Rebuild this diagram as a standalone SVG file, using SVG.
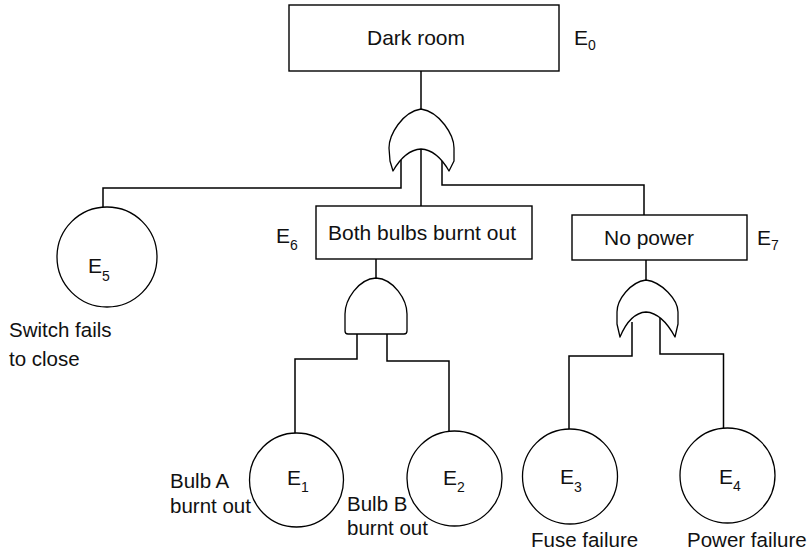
<svg xmlns="http://www.w3.org/2000/svg" width="812" height="555" viewBox="0 0 812 555">
<style>
.box{fill:#fff;stroke:#000;stroke-width:1.4}
.gate{fill:#fff;stroke:#000;stroke-width:1.3;stroke-linejoin:round}
.ev{fill:#fff;stroke:#000;stroke-width:1.3}
.ln{fill:none;stroke:#000;stroke-width:1.5}
text{font-family:"Liberation Sans",Arial,sans-serif;fill:#111}
.t{font-size:21px}
.l{font-size:20.5px}
.s{font-size:14px}
</style>
<rect width="812" height="555" fill="#fff"/>
<g id="connectors">
<path class="ln" d="M421,71 V109"/>
<path class="ln" d="M421,149 V206"/>
<path class="ln" d="M401,160 V188 H103 V207"/>
<path class="ln" d="M442,161 V185 H644 V215"/>
<path class="ln" d="M376,259 V278"/>
<path class="ln" d="M357,334 V359 H295 V433"/>
<path class="ln" d="M387,334 V361 H449 V431"/>
<path class="ln" d="M646,260 V280"/>
<path class="ln" d="M632,322 V356 H569 V429"/>
<path class="ln" d="M660,316 V354 H723.5 V428"/>
</g>
<g id="E0">
<rect class="box" x="289" y="5" width="270" height="66"/>
<text class="t" x="367" y="45">Dark room</text>
<text class="t" x="574" y="45">E<tspan class="s" dy="5">0</tspan></text>
</g>
<g id="or1">
<path class="gate" d="M421,109 C402,112 389,135 389,148 L390,161 L393,171 Q405,150 421,149 Q437,150 449,171 L454,161 L454,148 C454,135 440,112 421,109 Z"/>
</g>
<g id="E6">
<rect class="box" x="316" y="206" width="216" height="53"/>
<text class="t" x="328" y="240">Both bulbs burnt out</text>
<text class="t" x="276" y="243">E<tspan class="s" dy="7">6</tspan></text>
</g>
<g id="and1">
<path class="gate" d="M376,278 C358,279 345,300 345,314 L345,331 Q345,334 348,334 L404,334 Q407,334 407,331 L407,314 C407,300 394,279 376,278 Z"/>
</g>
<g id="E7">
<rect class="box" x="572" y="215" width="175" height="45"/>
<text class="t" x="604" y="245">No power</text>
<text class="t" x="757" y="245">E<tspan class="s" dy="5">7</tspan></text>
</g>
<g id="or2">
<path class="gate" d="M646,280 C630,282 617,300 617,312 L617,324 L620,337 Q630,313 646,312 Q662,313 675,337 L678,324 L678,312 C678,300 662,282 646,280 Z"/>
</g>
<g id="E5">
<circle class="ev" cx="107" cy="257" r="50"/>
<text class="t" x="88" y="273">E<tspan class="s" dy="8">5</tspan></text>
<text class="l" x="9" y="337">Switch fails</text>
<text class="l" x="9" y="366">to close</text>
</g>
<g id="E1">
<circle class="ev" cx="296.5" cy="480" r="47"/>
<text class="t" x="287" y="485">E<tspan class="s" dy="7">1</tspan></text>
<text class="l" x="170" y="488">Bulb A</text>
<text class="l" x="170" y="513">burnt out</text>
</g>
<g id="E2">
<circle class="ev" cx="454.5" cy="478.5" r="47.5"/>
<text class="t" x="443" y="485">E<tspan class="s" dy="7">2</tspan></text>
<text class="l" x="347" y="511">Bulb B</text>
<text class="l" x="347" y="535">burnt out</text>
</g>
<g id="E3">
<circle class="ev" cx="570" cy="476.5" r="47.5"/>
<text class="t" x="560" y="484">E<tspan class="s" dy="8">3</tspan></text>
<text class="l" x="531" y="547">Fuse failure</text>
</g>
<g id="E4">
<circle class="ev" cx="727.5" cy="475.5" r="47.5"/>
<text class="t" x="719" y="484">E<tspan class="s" dy="7">4</tspan></text>
<text class="l" x="687" y="547">Power failure</text>
</g>
</svg>
